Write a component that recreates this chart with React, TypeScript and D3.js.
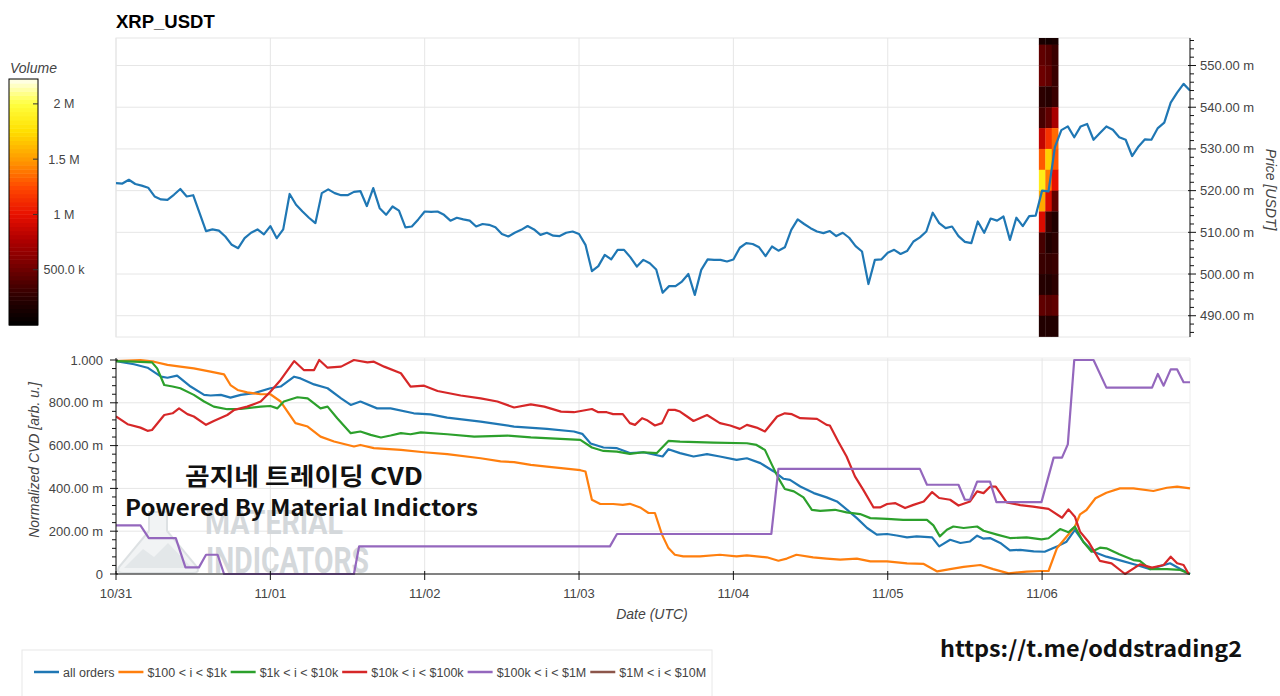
import React, { useEffect, useRef } from "react";
import * as d3 from "d3";

const START = Date.UTC(2024, 9, 31, 0, 0, 0);
const HOUR = 3600 * 1000;
const LAST_HOUR = 167;

// hourly close price (USDT), index = hours since 10/31 00:00 UTC
const priceValues: number[] = [
  0.5218, 0.5217, 0.5226, 0.5216, 0.5212, 0.5207, 0.5186, 0.5179, 0.5178, 0.519,
  0.5204, 0.5186, 0.5189, 0.5146, 0.5103, 0.5107, 0.5104, 0.509, 0.507, 0.5062,
  0.5086, 0.5099, 0.5107, 0.5095, 0.5115, 0.5086, 0.5107, 0.5192, 0.5166, 0.515,
  0.5135, 0.5122, 0.5194, 0.5203, 0.5194, 0.5189, 0.5189, 0.5197, 0.5199, 0.5163,
  0.5206, 0.5158, 0.5142, 0.5162, 0.5152, 0.5112, 0.5114, 0.5131, 0.515, 0.5149,
  0.515, 0.5142, 0.5128, 0.5135, 0.5131, 0.5128, 0.5114, 0.512, 0.5118, 0.5112,
  0.5096, 0.509, 0.5099, 0.5106, 0.5115, 0.5107, 0.5094, 0.5099, 0.5092, 0.5091,
  0.5099, 0.5102, 0.5096, 0.507, 0.5007, 0.5019, 0.5046, 0.5035, 0.5058, 0.5058,
  0.504, 0.5018, 0.5034, 0.5026, 0.5011, 0.4955, 0.4971, 0.4971, 0.4982, 0.5,
  0.495, 0.501, 0.5035, 0.5034, 0.5034, 0.503, 0.5035, 0.5063, 0.5074, 0.5072,
  0.5064, 0.5043, 0.5066, 0.5056, 0.5064, 0.5106, 0.5131, 0.512, 0.511, 0.5102,
  0.5098, 0.5103, 0.5091, 0.5099, 0.5087, 0.5067, 0.5054, 0.4976, 0.5034, 0.5035,
  0.5051, 0.5058, 0.5048, 0.5055, 0.5078, 0.5088, 0.5102, 0.5147, 0.5122, 0.511,
  0.5114, 0.5091, 0.5077, 0.5074, 0.5126, 0.5099, 0.5133, 0.5128, 0.5138, 0.5082,
  0.5135, 0.5115, 0.5139, 0.514, 0.52, 0.5198, 0.5305, 0.5345, 0.5354, 0.5328,
  0.5354, 0.536, 0.5322, 0.5338, 0.5354, 0.5346, 0.5328, 0.5322, 0.5283, 0.5306,
  0.5323, 0.5322, 0.535, 0.5363, 0.5411, 0.5435, 0.5456, 0.544,
];

// volume heatmap (single burst around 11/06 00:00-03:00)
const heatHours: number[] = [144, 145, 146];
const heatBinLows: number[] = [
  0.555, 0.55, 0.545, 0.54, 0.535, 0.53, 0.525, 0.52, 0.515, 0.51, 0.505, 0.5, 0.495, 0.49, 0.485,
];
const heatBinSize = 0.005;
// millions, rows follow heatBinLows, columns follow heatHours
const heatVolumes: number[][] = [
  [0.15, 0.12, 0.15],
  [0.45, 0.4, 0.3],
  [0.5, 0.45, 0.3],
  [0.25, 0.22, 0.3],
  [0.35, 0.45, 0.75],
  [0.85, 1.15, 1.35],
  [1.3, 1.7, 1.3],
  [1.85, 1.4, 1.0],
  [1.55, 0.95, 0.45],
  [0.95, 0.3, 0.2],
  [0.35, 0.2, 0.25],
  [0.3, 0.28, 0.3],
  [0.22, 0.2, 0.25],
  [0.45, 0.42, 0.45],
  [0.2, 0.2, 0.2],
];
const volumeMax = 2.225; // M
const volumeTicks: number[] = [0.5, 1, 1.5, 2];
const volumeTickLabels: string[] = ["500.0 k", "1 M", "1.5 M", "2 M"];

// normalized CVD series: [hour, value]
const cvdAllOrders: [number, number][] = [
  [0, 0.995], [2.8, 0.98], [4.9, 0.964], [7, 0.922], [8, 0.917], [9.5, 0.927], [11.6, 0.876],
  [13.7, 0.837], [14.7, 0.834], [16.3, 0.837], [17.8, 0.824], [19.4, 0.837], [21.5, 0.845],
  [24, 0.868], [25.6, 0.876], [27.7, 0.922], [28.7, 0.914], [30.8, 0.886], [32.9, 0.868],
  [35, 0.821], [36.5, 0.79], [38, 0.806], [40.6, 0.774], [42.7, 0.774], [46.3, 0.751],
  [48.9, 0.746], [51.5, 0.731], [56.7, 0.712], [61.9, 0.689], [67, 0.678], [71.2, 0.666],
  [72.5, 0.655], [73.8, 0.61], [75.8, 0.591], [77.9, 0.588], [79.9, 0.565], [82, 0.569],
  [85, 0.549], [85.9, 0.583], [87.7, 0.565], [89.8, 0.549], [91.9, 0.56], [93.9, 0.549],
  [96.5, 0.533], [98.1, 0.541], [100.2, 0.518], [102.3, 0.479], [103.8, 0.445], [104.8, 0.44],
  [106.4, 0.409], [108.5, 0.378], [110.5, 0.358], [112.1, 0.339], [113.7, 0.3], [115.2, 0.261],
  [116.8, 0.215], [118.3, 0.184], [119.9, 0.187], [121.4, 0.18], [123, 0.171], [124.5, 0.176],
  [126.9, 0.171], [128, 0.129], [129.7, 0.16], [131.3, 0.145], [132.8, 0.152], [133.9, 0.179],
  [134.9, 0.165], [135.9, 0.168], [137.5, 0.145], [139, 0.11], [140.6, 0.113], [142.7, 0.106],
  [144.4, 0.104], [146.3, 0.128], [147.8, 0.151], [149.1, 0.206], [150.4, 0.151], [152, 0.104],
  [154, 0.081], [156, 0.065], [158.7, 0.042], [160.8, 0.023], [163.9, 0.05], [165.5, 0.023],
  [167, 0],
];
const cvd100to1k: [number, number][] = [
  [0, 0.995], [3.8, 1.0], [5.9, 0.992], [8, 0.977], [10, 0.969], [12.1, 0.961], [14.7, 0.946],
  [16.8, 0.933], [17.8, 0.883], [18.9, 0.86], [20.4, 0.849], [22.5, 0.84], [24, 0.84],
  [25.6, 0.806], [27.9, 0.705], [29.8, 0.689], [31.8, 0.642], [33.9, 0.619], [37, 0.596],
  [38, 0.603], [40.1, 0.588], [44.3, 0.58], [47.9, 0.569], [51.5, 0.56], [56.7, 0.541],
  [59.8, 0.526], [61.9, 0.523], [64.5, 0.51], [67, 0.502], [72.2, 0.485], [73, 0.479],
  [74, 0.347], [75.3, 0.327], [77.3, 0.327], [78.8, 0.323], [79.9, 0.328], [81.5, 0.311],
  [82.8, 0.285], [83.8, 0.285], [84.9, 0.184], [85.9, 0.121], [86.9, 0.09], [88.2, 0.082],
  [90.8, 0.082], [93.9, 0.09], [96.5, 0.082], [98.1, 0.087], [101.2, 0.078], [103, 0.062],
  [104.3, 0.072], [105.8, 0.09], [108.4, 0.078], [110.5, 0.072], [112.6, 0.067], [115.2, 0.072],
  [117.3, 0.059], [119.9, 0.059], [123, 0.05], [125.6, 0.047], [127.7, 0.012], [129.7, 0.023],
  [131.8, 0.033], [134.4, 0.042], [136.4, 0.023], [138.8, 0.003], [141.6, 0.011], [143.9, 0.014],
  [145, 0.014], [146.3, 0.12], [147.8, 0.174], [149.1, 0.221], [149.9, 0.279], [150.9, 0.299],
  [152.3, 0.354], [154, 0.38], [156.1, 0.4], [158.2, 0.4], [161.3, 0.388], [163.4, 0.403],
  [165, 0.408], [167, 0.4],
];
const cvd1kto10k: [number, number][] = [
  [0, 0.995], [2.8, 0.992], [5.6, 0.989], [6.4, 0.961], [7.5, 0.883], [8.8, 0.876], [10, 0.868],
  [12.1, 0.837], [13.7, 0.806], [15.2, 0.782], [17.3, 0.77], [19.4, 0.771], [22.5, 0.782],
  [24, 0.785], [25.1, 0.774], [26.1, 0.806], [28.2, 0.826], [29.8, 0.821], [31.8, 0.774],
  [32.9, 0.782], [34.4, 0.728], [36.5, 0.658], [38, 0.666], [39.6, 0.65], [41.2, 0.638],
  [42.7, 0.647], [44.3, 0.658], [45.8, 0.653], [47.4, 0.662], [51.5, 0.653], [55.7, 0.642],
  [60.9, 0.647], [64.5, 0.638], [72.2, 0.627], [74, 0.591], [75.8, 0.575], [77.9, 0.572],
  [79.9, 0.561], [82, 0.569], [84.1, 0.565], [85.9, 0.622], [87.7, 0.619], [92.9, 0.614],
  [98.1, 0.611], [99.6, 0.603], [100.9, 0.58], [102, 0.51], [103, 0.448], [104, 0.397],
  [105.4, 0.386], [106.9, 0.358], [108.2, 0.3], [109.5, 0.295], [111.8, 0.3], [113.6, 0.288],
  [115.7, 0.28], [117.3, 0.261], [119.9, 0.258], [122.4, 0.253], [126.1, 0.253], [127.1, 0.227],
  [128.1, 0.176], [129.2, 0.207], [130.2, 0.222], [131.8, 0.215], [133.9, 0.222], [134.9, 0.202],
  [137, 0.184], [139, 0.168], [141.6, 0.171], [143.9, 0.162], [145, 0.167], [146.8, 0.21],
  [148.1, 0.195], [149.1, 0.221], [150.4, 0.151], [151.7, 0.104], [153, 0.123], [154, 0.12],
  [156, 0.092], [158.2, 0.065], [159.2, 0.061], [160.8, 0.023], [163.4, 0.023], [165.5, 0.019],
  [167, 0],
];
const cvd10kto100k: [number, number][] = [
  [0, 0.736], [1.8, 0.7], [3.8, 0.684], [4.9, 0.669], [5.6, 0.673], [7.5, 0.743], [8.8, 0.751],
  [9.8, 0.774], [11.1, 0.747], [12.1, 0.736], [14, 0.697], [15.2, 0.715], [17.3, 0.743],
  [18.4, 0.767], [20.4, 0.782], [22.5, 0.806], [24, 0.852], [25.6, 0.907], [27.7, 0.995],
  [29.2, 0.953], [30.8, 0.953], [31.6, 1.0], [32.9, 0.964], [35, 0.969], [37, 1.0], [39.1, 0.989],
  [40.1, 0.992], [41.7, 0.969], [44.3, 0.938], [45.8, 0.876], [47.9, 0.88], [50, 0.855],
  [53.6, 0.834], [56.7, 0.821], [59.3, 0.806], [61.9, 0.778], [64.5, 0.793], [66.6, 0.782],
  [69.2, 0.759], [71.2, 0.756], [74, 0.771], [75, 0.756], [76.3, 0.756], [77.3, 0.747],
  [78.8, 0.747], [79.9, 0.705], [80.7, 0.697], [81.8, 0.728], [82.5, 0.72], [83.8, 0.694],
  [84.9, 0.705], [85.9, 0.767], [86.9, 0.767], [87.7, 0.759], [88.8, 0.736], [89.8, 0.715],
  [91.9, 0.743], [93.9, 0.705], [95.5, 0.694], [97, 0.678], [98.1, 0.697], [99.6, 0.684],
  [100.9, 0.666], [102.8, 0.736], [104, 0.751], [105.1, 0.747], [106.4, 0.728], [109, 0.725],
  [110.5, 0.697], [111, 0.694], [112.3, 0.619], [113.6, 0.549], [114.9, 0.456], [116.2, 0.393],
  [117.8, 0.311], [118.8, 0.311], [119.9, 0.327], [121.2, 0.331], [122.7, 0.308], [124, 0.323],
  [125.6, 0.339], [126.9, 0.383], [128, 0.355], [129.7, 0.347], [131, 0.32], [132.8, 0.339],
  [133.9, 0.386], [134.9, 0.378], [135.9, 0.408], [136.8, 0.408], [138.5, 0.335], [140.6, 0.322],
  [142.6, 0.315], [145, 0.304], [147.1, 0.263], [148.1, 0.302], [149.1, 0.268], [149.9, 0.198],
  [151.2, 0.151], [153, 0.061], [154.8, 0.05], [156.9, 0], [159.2, 0.045], [161.1, 0.03],
  [162.9, 0.042], [164, 0.081], [165, 0.05], [166, 0.042], [166.8, 0],
];
const cvd100kto1M: [number, number][] = [
  [0, 0.227], [3.8, 0.227], [5.1, 0.168], [9.3, 0.168], [10.8, 0.031], [12.9, 0.031], [14, 0.09],
  [15.8, 0.09], [16.8, 0], [37, 0], [37.8, 0.129], [76.8, 0.129], [77.9, 0.187], [101.9, 0.187],
  [103, 0.491], [125, 0.491], [126.1, 0.417], [131, 0.417], [132, 0.347], [132.8, 0.347],
  [133.9, 0.432], [135.9, 0.432], [136.9, 0.336], [143.9, 0.336], [145.8, 0.544], [147.1, 0.544],
  [148, 0.606], [149, 1.0], [152, 1.0], [154, 0.871], [161.1, 0.871], [162, 0.935], [162.9, 0.88],
  [164, 0.956], [165, 0.956], [166, 0.896], [167, 0.896],
];
const cvd1Mto10M: [number, number][] = [];

const seriesNames: string[] = [
  "all orders", "$100 < i < $1k", "$1k < i < $10k", "$10k < i < $100k", "$100k < i < $1M", "$1M < i < $10M",
];
const seriesColors: string[] = ["#1f77b4", "#ff7f0e", "#2ca02c", "#d62728", "#9467bd", "#8c564b"];
const seriesData = [cvdAllOrders, cvd100to1k, cvd1kto10k, cvd10kto100k, cvd100kto1M, cvd1Mto10M];

const priceTicks: number[] = [0.49, 0.5, 0.51, 0.52, 0.53, 0.54, 0.55];
const cvdTicks: number[] = [0, 0.2, 0.4, 0.6, 0.8, 1.0];

const FONT = "'Liberation Sans', Arial, Helvetica, sans-serif";

export default function App() {
  const ref = useRef<SVGSVGElement | null>(null);

  useEffect(() => {
    const svg = d3.select(ref.current as SVGSVGElement);
    svg.selectAll("*").remove();

    const L = 116, R = 1190;
    const pTop = 38, pBot = 337;
    const cTop = 358, cBot = 574;

    const hourDate = (h: number) => new Date(START + h * HOUR);
    const x = d3.scaleUtc().domain([hourDate(0), hourDate(LAST_HOUR)]).range([L, R]);
    const yP = d3.scaleLinear().domain([0.4849, 0.5566]).range([pBot, pTop]);
    const yC = d3.scaleLinear().domain([0, 1]).range([cBot, 360]);

    const fire = d3
      .scaleLinear<string>()
      .domain([0, 0.1, 0.22, 0.35, 0.45, 0.56, 0.67, 0.79, 0.9, 1.0])
      .range(["#000000", "#250000", "#6a0000", "#b00000", "#e81000", "#ff4800", "#ff9800", "#ffe000", "#ffff40", "#fffff0"])
      .clamp(true);

    const defs = svg.append("defs");
    defs.append("clipPath").attr("id", "clipP").append("rect")
      .attr("x", L).attr("y", pTop).attr("width", R - L).attr("height", pBot - pTop);
    defs.append("clipPath").attr("id", "clipC").append("rect")
      .attr("x", L).attr("y", cTop - 2).attr("width", R - L + 1).attr("height", cBot - cTop + 3);

    svg.append("rect").attr("width", 1280).attr("height", 696).attr("fill", "#fff");

    const days = d3.utcDay.range(hourDate(0), hourDate(LAST_HOUR + 1));
    const gridColor = "#e6e6e6";

    // ---------- top panel ----------
    const top = svg.append("g");
    top.selectAll("line.hg").data(priceTicks).join("line")
      .attr("x1", L).attr("x2", R).attr("y1", (d) => yP(d)).attr("y2", (d) => yP(d))
      .attr("stroke", gridColor);
    top.selectAll("line.vg").data(days).join("line")
      .attr("x1", (d) => x(d)).attr("x2", (d) => x(d)).attr("y1", pTop).attr("y2", pBot)
      .attr("stroke", gridColor);
    top.append("rect").attr("x", L).attr("y", pTop).attr("width", R - L).attr("height", pBot - pTop)
      .attr("fill", "none").attr("stroke", "#e6e6e6");

    const heatG = top.append("g").attr("clip-path", "url(#clipP)");
    heatBinLows.forEach((low, ri) => {
      heatHours.forEach((h, ci) => {
        const x0 = x(hourDate(h - 0.5));
        const x1 = x(hourDate(h + 0.5));
        heatG.append("rect")
          .attr("x", x0).attr("width", x1 - x0 + 0.3)
          .attr("y", yP(low + heatBinSize)).attr("height", yP(low) - yP(low + heatBinSize) + 0.3)
          .attr("fill", fire(heatVolumes[ri][ci] / volumeMax));
      });
    });

    const priceLine = d3.line<number>().x((_, i) => x(hourDate(i))).y((d) => yP(d));
    top.append("path").attr("d", priceLine(priceValues) as string)
      .attr("fill", "none").attr("stroke", "#1f77b4").attr("stroke-width", 2.2)
      .attr("stroke-linejoin", "round").attr("clip-path", "url(#clipP)");

    // right axis
    const ra = svg.append("g");
    ra.append("line").attr("x1", R).attr("x2", R).attr("y1", pTop).attr("y2", pBot).attr("stroke", "#111");
    const minorP = d3.range(0.486, 0.5566, 0.002).filter((v) => Math.abs(Math.round(v * 100) - v * 100) > 1e-6);
    ra.selectAll("line.mn").data(minorP).join("line")
      .attr("x1", R).attr("x2", R + 4).attr("y1", (d) => yP(d)).attr("y2", (d) => yP(d)).attr("stroke", "#111");
    ra.selectAll("line.mj").data(priceTicks).join("line")
      .attr("x1", R - 2).attr("x2", R + 6).attr("y1", (d) => yP(d)).attr("y2", (d) => yP(d)).attr("stroke", "#111");
    ra.selectAll("text").data(priceTicks).join("text")
      .attr("x", R + 10).attr("y", (d) => yP(d) + 4.5)
      .attr("font-family", FONT).attr("font-size", 13).attr("fill", "#444")
      .text((d) => `${(d * 1000).toFixed(2)} m`);
    svg.append("text")
      .attr("transform", `translate(1266, ${(pTop + pBot) / 2 + 2}) rotate(90)`)
      .attr("text-anchor", "middle").attr("font-family", FONT).attr("font-size", 14)
      .attr("font-style", "italic").attr("fill", "#444").text("Price [USDT]");

    svg.append("text").attr("x", L).attr("y", 28).attr("font-family", FONT).attr("font-size", 18.5)
      .attr("font-weight", "bold").attr("fill", "#000").text("XRP_USDT");

    // ---------- colorbar ----------
    const cbX = 9, cbW = 29, cbTop = 79, cbBot = 325;
    const yV = d3.scaleLinear().domain([0, volumeMax]).range([cbBot, cbTop]);
    const nBands = 60;
    const cb = svg.append("g");
    d3.range(nBands).forEach((i) => {
      const v0 = (i / nBands) * volumeMax;
      const v1 = ((i + 1) / nBands) * volumeMax;
      cb.append("rect").attr("x", cbX).attr("width", cbW)
        .attr("y", yV(v1)).attr("height", yV(v0) - yV(v1) + 0.5)
        .attr("fill", fire((i + 0.5) / nBands));
    });
    cb.append("rect").attr("x", cbX).attr("y", cbTop).attr("width", cbW).attr("height", cbBot - cbTop)
      .attr("fill", "none").attr("stroke", "#000").attr("stroke-width", 1);
    cb.selectAll("line.t").data(volumeTicks).join("line")
      .attr("x1", cbX + cbW - 5).attr("x2", cbX + cbW).attr("y1", (d) => yV(d)).attr("y2", (d) => yV(d))
      .attr("stroke", "#333");
    cb.selectAll("text.t").data(volumeTicks).join("text")
      .attr("x", 64).attr("y", (d) => yV(d) + 4.5).attr("text-anchor", "middle")
      .attr("font-family", FONT).attr("font-size", 12.5).attr("fill", "#444")
      .text((_, i) => volumeTickLabels[i]);
    svg.append("text").attr("x", 10).attr("y", 73).attr("font-family", FONT).attr("font-size", 14)
      .attr("font-style", "italic").attr("fill", "#444").text("Volume");

    // ---------- bottom panel ----------
    const bot = svg.append("g");
    bot.selectAll("line.hg").data(cvdTicks).join("line")
      .attr("x1", L).attr("x2", R).attr("y1", (d) => yC(d)).attr("y2", (d) => yC(d)).attr("stroke", gridColor);
    bot.selectAll("line.vg").data(days).join("line")
      .attr("x1", (d) => x(d)).attr("x2", (d) => x(d)).attr("y1", cTop).attr("y2", cBot).attr("stroke", gridColor);
    bot.append("line").attr("x1", L).attr("x2", R).attr("y1", cTop).attr("y2", cTop).attr("stroke", "#ececec");
    bot.append("line").attr("x1", R).attr("x2", R).attr("y1", cTop).attr("y2", cBot).attr("stroke", "#ececec");

    // watermark
    const wm = bot.append("g");
    wm.append("path")
      .attr("d", "M149,512 L167,512 L167,531 L197,567 Q200,573 193,573 L123,573 Q116,573 119,567 L149,531 Z")
      .attr("fill", "#f1f3f4").attr("stroke", "#dde1e3").attr("stroke-width", 2);
    wm.append("path").attr("d", "M124,568 L143,549 L154,557 L168,543 L192,568 Z").attr("fill", "#e3e7e9");
    wm.append("text").attr("x", 205).attr("y", 534).attr("font-family", "Roboto, 'Liberation Sans', sans-serif")
      .attr("font-weight", "bold").attr("font-size", 34).attr("fill", "#d4d8db")
      .attr("textLength", 138).attr("lengthAdjust", "spacingAndGlyphs").text("MATERIAL");
    wm.append("text").attr("x", 206).attr("y", 573).attr("font-family", "Roboto, 'Liberation Sans', sans-serif")
      .attr("font-weight", "bold").attr("font-size", 36).attr("fill", "#d4d8db")
      .attr("textLength", 163).attr("lengthAdjust", "spacingAndGlyphs").text("INDICATORS");

    const cvdLine = d3.line<[number, number]>().x((d) => x(hourDate(d[0]))).y((d) => yC(d[1]));
    const lg = bot.append("g").attr("clip-path", "url(#clipC)");
    seriesData.forEach((s, i) => {
      if (!s.length) return;
      lg.append("path").attr("d", cvdLine(s) as string).attr("fill", "none")
        .attr("stroke", seriesColors[i]).attr("stroke-width", 2.2).attr("stroke-linejoin", "round");
    });

    // left axis
    const la = svg.append("g");
    la.append("line").attr("x1", L).attr("x2", L).attr("y1", cTop).attr("y2", cBot).attr("stroke", "#111");
    const minorC = d3.range(0.04, 1.0, 0.04).filter((v) => Math.abs(Math.round(v * 5) - v * 5) > 1e-6);
    la.selectAll("line.mn").data(minorC).join("line")
      .attr("x1", L - 4).attr("x2", L).attr("y1", (d) => yC(d)).attr("y2", (d) => yC(d)).attr("stroke", "#111");
    la.selectAll("line.mj").data(cvdTicks).join("line")
      .attr("x1", L - 6).attr("x2", L + 2).attr("y1", (d) => yC(d)).attr("y2", (d) => yC(d)).attr("stroke", "#111");
    la.selectAll("text").data(cvdTicks).join("text")
      .attr("x", L - 13).attr("y", (d) => yC(d) + 4.5).attr("text-anchor", "end")
      .attr("font-family", FONT).attr("font-size", 13).attr("fill", "#444")
      .text((d) => (d === 0 ? "0" : d === 1 ? "1.000" : `${(d * 1000).toFixed(2)} m`));
    svg.append("text")
      .attr("transform", `translate(39, 460) rotate(-90)`)
      .attr("text-anchor", "middle").attr("font-family", FONT).attr("font-size", 14)
      .attr("font-style", "italic").attr("fill", "#444").text("Normalized CVD [arb. u.]");

    // bottom axis
    const ba = svg.append("g");
    ba.append("line").attr("x1", L).attr("x2", R).attr("y1", cBot).attr("y2", cBot).attr("stroke", "#111");
    ba.selectAll("line.mj").data(days).join("line")
      .attr("x1", (d) => x(d)).attr("x2", (d) => x(d)).attr("y1", cBot - 3).attr("y2", cBot + 6).attr("stroke", "#111");
    const fmt = d3.utcFormat("%m/%d");
    ba.selectAll("text").data(days).join("text")
      .attr("x", (d) => x(d)).attr("y", 598).attr("text-anchor", "middle")
      .attr("font-family", FONT).attr("font-size", 13).attr("fill", "#444").text((d) => fmt(d));
    svg.append("text").attr("x", 652).attr("y", 619).attr("text-anchor", "middle")
      .attr("font-family", FONT).attr("font-size", 14).attr("font-style", "italic").attr("fill", "#444")
      .text("Date (UTC)");

    // overlay captions
    const KFONT = "'Noto Sans CJK KR', 'Noto Sans', sans-serif";
    svg.append("text").attr("x", 185).attr("y", 485).attr("font-family", KFONT).attr("font-weight", "bold")
      .attr("font-size", 24).attr("fill", "#111").attr("textLength", 238).attr("lengthAdjust", "spacingAndGlyphs")
      .text("곰지네 트레이딩 CVD");
    svg.append("text").attr("x", 125).attr("y", 516).attr("font-family", KFONT).attr("font-weight", "bold")
      .attr("font-size", 22).attr("fill", "#111").attr("textLength", 353).attr("lengthAdjust", "spacingAndGlyphs")
      .text("Powered By Material Indictors");
    svg.append("text").attr("x", 940).attr("y", 657).attr("font-family", KFONT).attr("font-weight", "bold")
      .attr("font-size", 22).attr("fill", "#111").attr("textLength", 302).attr("lengthAdjust", "spacingAndGlyphs")
      .text("https://t.me/oddstrading2");

    // legend
    const leg = svg.append("g");
    leg.append("rect").attr("x", 22).attr("y", 650).attr("width", 690).attr("height", 60)
      .attr("fill", "#fff").attr("stroke", "#e8e8e8");
    let cx = 34;
    seriesNames.forEach((name, i) => {
      leg.append("line").attr("x1", cx).attr("x2", cx + 25).attr("y1", 672).attr("y2", 672)
        .attr("stroke", seriesColors[i]).attr("stroke-width", 2.5);
      const t = leg.append("text").attr("x", cx + 29).attr("y", 676.5).attr("font-family", FONT)
        .attr("font-size", 12.5).attr("fill", "#444").text(name);
      const w = (t.node() as SVGTextElement).getComputedTextLength();
      cx = cx + 29 + w + 4;
    });
  }, []);

  return (
    <svg
      ref={ref}
      width={1280}
      height={696}
      style={{ position: "absolute", left: 0, top: 0, display: "block", background: "#fff" }}
    />
  );
}
